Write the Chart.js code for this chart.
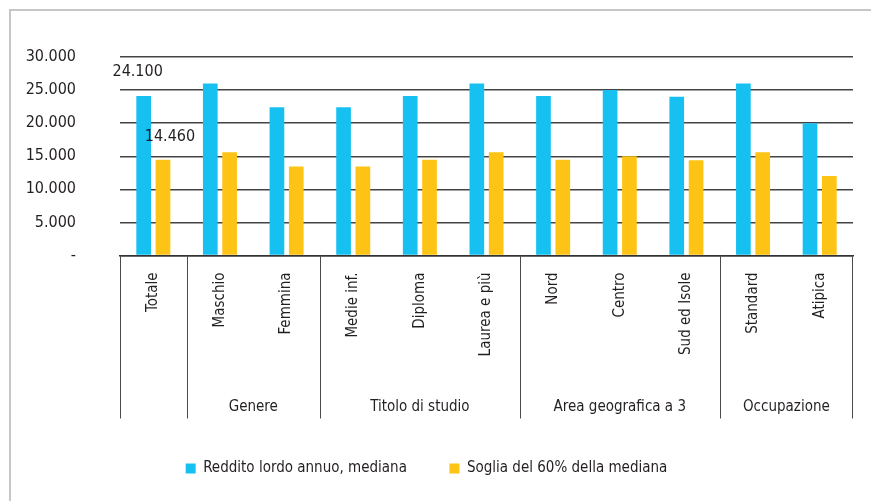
<!DOCTYPE html>
<html>
<head>
<meta charset="utf-8">
<title>Reddito lordo annuo e soglia del 60%</title>
<script src="https://cdn.jsdelivr.net/npm/chart.js@4.4.0/dist/chart.umd.min.js"></script>
<style>
  body { margin: 0; background: #fff; }
  #wrap { width: 871px; height: 501px; }
</style>
</head>
<body>
<div id="wrap"><canvas id="redditoChart" width="871" height="501"></canvas></div>
<script>
var categories = ['Totale', 'Maschio', 'Femmina', 'Medie inf.', 'Diploma', 'Laurea e più', 'Nord', 'Centro', 'Sud ed Isole', 'Standard', 'Atipica'];
var groupNames = ['', 'Genere', 'Titolo di studio', 'Area geografica a 3', 'Occupazione'];
var groupSizes = [1, 2, 3, 3, 2];
var redditoMediana = [24100, 26000, 22400, 22400, 24100, 26000, 24100, 25000, 24000, 26000, 20000];
var sogliaMediana = [14460, 15600, 13440, 13440, 14460, 15600, 14460, 15000, 14400, 15600, 12000];
var seriesNames = ['Reddito lordo annuo, mediana', 'Soglia del 60% della mediana'];
var yTicks = [0, 5000, 10000, 15000, 20000, 25000, 30000];
// only the "Totale" bars carry a value label
var labelledIndex = 0;

var fontFamily = '"Liberation Sans Narrow", "DejaVu Sans Condensed", "Arial Narrow", sans-serif';
var textColor = '#231f20';

function formatIt(v) {
    if (v === 0) return '-';
    return String(v).replace(/\B(?=(\d{3})+(?!\d))/g, '.');
}

// frame, group separators under the axis and group names
var groupBoxes = {
    id: 'groupBoxes',
    beforeDraw: function (chart) {
        var ctx = chart.ctx;
        ctx.save();
        ctx.strokeStyle = '#c6c6c6';
        ctx.lineWidth = 2;
        ctx.beginPath();
        ctx.moveTo(10, chart.height);
        ctx.lineTo(10, 10);
        ctx.lineTo(chart.width, 10);
        ctx.stroke();
        ctx.restore();
    },
    afterDraw: function (chart) {
        var ctx = chart.ctx;
        var x = chart.scales.x;
        var step = x.getPixelForTick(1) - x.getPixelForTick(0);
        var top = x.top, bottom = x.bottom;
        ctx.save();
        ctx.strokeStyle = '#4a4a4a';
        ctx.lineWidth = 1;
        ctx.fillStyle = textColor;
        ctx.font = '15px ' + fontFamily;
        ctx.textAlign = 'center';
        ctx.textBaseline = 'middle';
        var start = 0;
        for (var g = 0; g < groupSizes.length; g++) {
            var left = x.getPixelForTick(start) - step / 2;
            var right = x.getPixelForTick(start + groupSizes[g] - 1) + step / 2;
            ctx.beginPath();
            ctx.moveTo(Math.round(left) + 0.5, top);
            ctx.lineTo(Math.round(left) + 0.5, bottom);
            if (g === groupSizes.length - 1) {
                ctx.moveTo(Math.round(right) - 0.5, top);
                ctx.lineTo(Math.round(right) - 0.5, bottom);
            }
            ctx.stroke();
            ctx.fillText(groupNames[g], (left + right) / 2, bottom - 11);
            start += groupSizes[g];
        }
        ctx.restore();
    }
};

// value labels above the first pair of bars
var valueLabels = {
    id: 'valueLabels',
    afterDatasetsDraw: function (chart) {
        var ctx = chart.ctx;
        var offsets = [[-6, -24], [7, -23]];
        ctx.save();
        ctx.fillStyle = textColor;
        ctx.font = '16px ' + fontFamily;
        ctx.textAlign = 'center';
        ctx.textBaseline = 'middle';
        chart.data.datasets.forEach(function (ds, d) {
            var bar = chart.getDatasetMeta(d).data[labelledIndex];
            ctx.fillText(formatIt(ds.data[labelledIndex]), bar.x + offsets[d][0], bar.y + offsets[d][1]);
        });
        ctx.restore();
    }
};

var ctx = document.getElementById('redditoChart');
var redditoChart = new Chart(ctx, {
    type: 'bar',
    data: {
        labels: categories,
        datasets: [{
            label: seriesNames[0],
            data: redditoMediana,
            backgroundColor: '#16c1f1',
            borderWidth: 0
        }, {
            label: seriesNames[1],
            data: sogliaMediana,
            backgroundColor: '#fdc315',
            borderWidth: 0
        }]
    },
    options: {
        responsive: false,
        animation: false,
        categoryPercentage: 0.58,
        barPercentage: 0.76,
        layout: {
            padding: { top: 57, right: 18, bottom: 15, left: 0 }
        },
        plugins: {
            tooltip: { enabled: false },
            legend: {
                position: 'bottom',
                labels: {
                    boxWidth: 10,
                    boxHeight: 10,
                    padding: 42.5,
                    color: textColor,
                    font: { family: fontFamily, size: 15 }
                }
            }
        },
        scales: {
            x: {
                grid: { display: false, drawTicks: false },
                border: { display: true, color: '#333', width: 1.5 },
                ticks: {
                    autoSkip: false,
                    minRotation: 90,
                    maxRotation: 90,
                    padding: 17,
                    color: textColor,
                    font: { family: fontFamily, size: 15 }
                },
                afterFit: function (scale) { scale.height = 163; }
            },
            y: {
                min: 0,
                max: 30000,
                afterBuildTicks: function (scale) {
                    scale.ticks = yTicks.map(function (v) { return { value: v }; });
                },
                grid: { color: '#444', lineWidth: 1.5, drawTicks: false },
                border: { display: false },
                ticks: {
                    padding: 44,
                    color: textColor,
                    font: { family: fontFamily, size: 16 },
                    callback: function (v) { return formatIt(v); }
                },
                afterFit: function (scale) { scale.width = 120; }
            }
        }
    },
    plugins: [groupBoxes, valueLabels]
});
</script>
</body>
</html>
